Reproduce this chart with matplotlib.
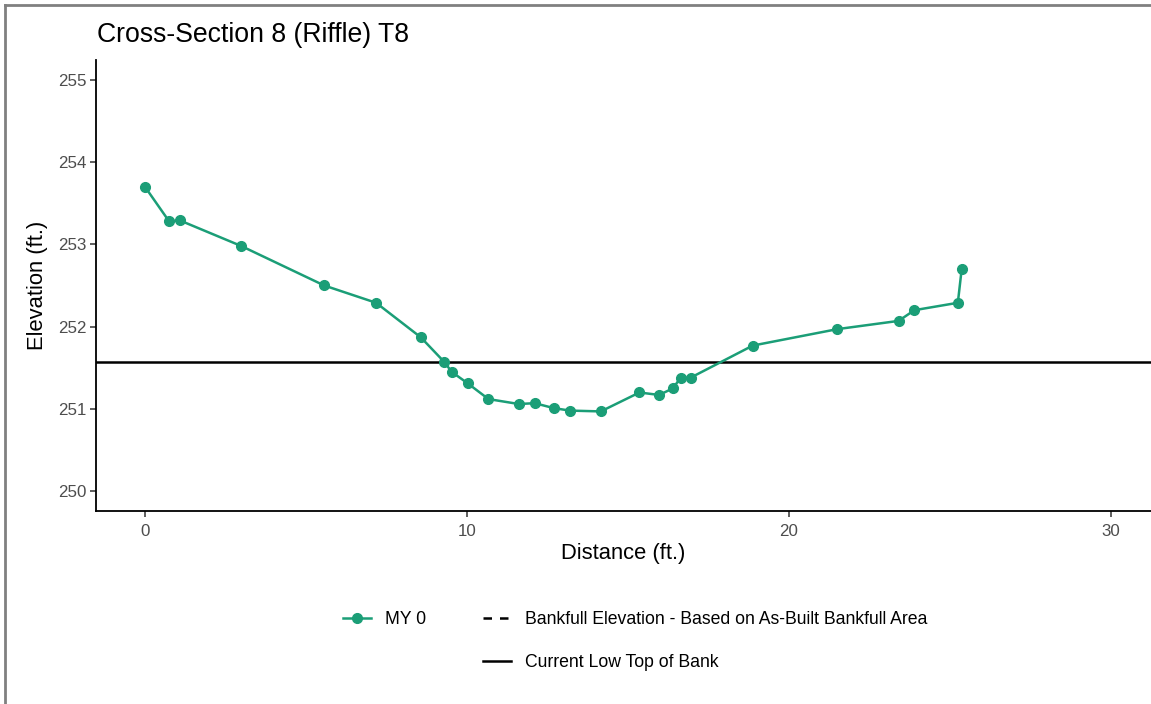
import numpy as np
import matplotlib
matplotlib.use("Agg")
import matplotlib.pyplot as plt
from matplotlib.lines import Line2D

plt.rcParams['font.family'] = ['Liberation Sans', 'DejaVu Sans']

# surveyed cross-section, monitoring year 0
distance = [0.00, 0.75, 1.09, 2.99, 5.57, 7.18, 8.57, 9.30, 9.53, 10.03,
            10.67, 11.61, 12.11, 12.70, 13.20, 14.16, 15.36, 15.97, 16.40,
            16.64, 16.95, 18.88, 21.51, 23.41, 23.90, 25.25, 25.37]
elevation = [253.70, 253.28, 253.29, 252.98, 252.50, 252.29, 251.87, 251.57,
             251.45, 251.31, 251.12, 251.06, 251.07, 251.01, 250.98, 250.97,
             251.20, 251.17, 251.25, 251.38, 251.38, 251.77, 251.97, 252.07,
             252.20, 252.29, 252.70]
low_top_of_bank = 251.57

xticks = [0, 10, 20, 30]
yticks = [250, 251, 252, 253, 254, 255]

green = '#1b9e77'

fig = plt.figure(figsize=(11.51, 7.04), dpi=100)
ax = fig.add_axes([96/1151, 1 - 511/704, 1 - 96/1151, (511 - 60)/704])

ax.plot(distance, elevation, color=green, lw=1.8, marker='o', ms=7,
        mec=green, mfc=green, zorder=3)
ax.axhline(low_top_of_bank, color='black', lw=1.8, zorder=2)

ax.set_xlim(-1.52, 31.25)
ax.set_ylim(249.76, 255.24)
ax.set_xticks(xticks)
ax.set_yticks(yticks)

for side in ['top', 'right']:
    ax.spines[side].set_visible(False)
for side in ['left', 'bottom']:
    ax.spines[side].set_linewidth(1.3)
    ax.spines[side].set_color('black')
ax.tick_params(axis='both', length=4, width=1.1, color='#333333',
               labelcolor='#4d4d4d', labelsize=12.2, pad=3)
ax.tick_params(axis='x', pad=5)

ax.set_xlabel('Distance (ft.)', fontsize=15.8)
ax.set_ylabel('Elevation (ft.)', fontsize=15.8)
ax.xaxis.set_label_coords(0.5, -(553 - 511)/451)
ax.yaxis.set_label_coords(-(96 - 37)/1055, 0.5)
ax.xaxis.label.set_va('center')
ax.yaxis.label.set_va('center')

fig.text(97/1151, 1 - 35/704, 'Cross-Section 8 (Riffle) T8', fontsize=19.2,
         ha='left', va='center')

handles = [
    Line2D([], [], color=green, lw=1.8, marker='o', ms=7),
    Line2D([], [], alpha=0),
    Line2D([], [], color='black', lw=1.8, ls=(0, (3.4, 3.2))),
    Line2D([], [], color='black', lw=1.8),
]
labels = ['MY 0', '', 'Bankfull Elevation - Based on As-Built Bankfull Area',
          'Current Low Top of Bank']
fig.legend(handles, labels, ncol=2, frameon=False, fontsize=12.7,
           loc='center', bbox_to_anchor=(635/1151, 1 - 641/704),
           handlelength=1.6, handletextpad=0.8, columnspacing=3.2,
           labelspacing=1.5)

# page frame
fig.add_artist(Line2D([5/1151, 5/1151], [0, 1 - 5/704], color='#808080', lw=2))
fig.add_artist(Line2D([5/1151, 1], [1 - 5/704, 1 - 5/704], color='#808080', lw=2))

fig.savefig('out.png', dpi=100)
